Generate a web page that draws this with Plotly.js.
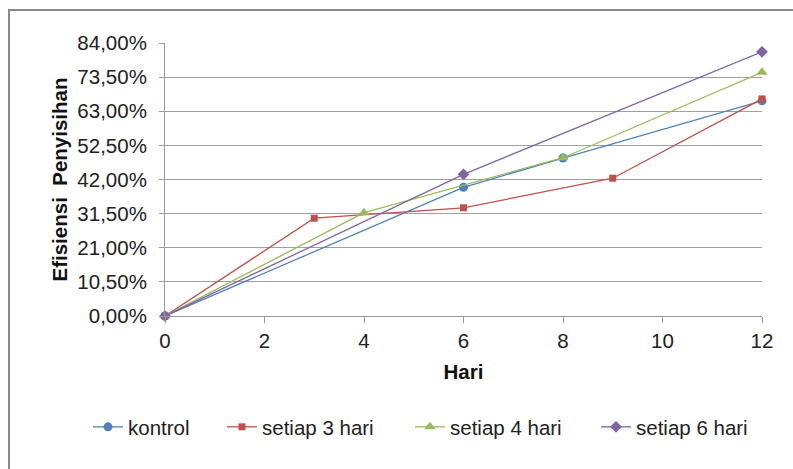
<!DOCTYPE html>
<html>
<head>
<meta charset="utf-8">
<script src="https://cdn.plot.ly/plotly-3.0.1.min.js"></script>
<style>
  html, body { margin: 0; padding: 0; background: #fff; }
  #wrap { position: relative; width: 793px; height: 469px; overflow: hidden; }
  #frame { position: absolute; left: 8px; top: 9px; width: 800px; height: 480px;
           border-top: 2px solid #8a8a8a; border-left: 2px solid #8a8a8a; pointer-events: none; }
  #chart { position: absolute; left: 0; top: 0; width: 793px; height: 469px; }
</style>
</head>
<body>
<div id="wrap">
  <div id="chart"></div>
  <div id="frame"></div>
</div>
<script>
// Removal efficiency (%) per day for each treatment schedule
const kontrolDays = [0, 6, 8, 12];
const kontrolVals = [0, 39.6, 48.6, 66.2];

const tiga3Days = [0, 3, 6, 9, 12];
const tiga3Vals = [0, 30.1, 33.3, 42.4, 66.8];

const empat4Days = [0, 4, 8, 12];
const empat4Vals = [0, 31.8, 48.7, 75.0];

const enam6Days = [0, 6, 12];
const enam6Vals = [0, 43.6, 81.3];

const seriesNames = ['kontrol', 'setiap 3 hari', 'setiap 4 hari', 'setiap 6 hari'];
const yTicks = [0, 10.5, 21, 31.5, 42, 52.5, 63, 73.5, 84];
const yTickText = yTicks.map(v => v.toFixed(2).replace('.', ',') + '%');
const xTicks = [0, 2, 4, 6, 8, 10, 12];

function line(x, y, name, color, symbol, size, legendId) {
  return {
    x: x, y: y, name: name, type: 'scatter', mode: 'lines+markers',
    line: { color: color, width: 1.3 },
    marker: { color: color, symbol: symbol, size: size },
    cliponaxis: false,
    legend: legendId
  };
}

const data = [
  line(kontrolDays, kontrolVals, seriesNames[0], '#4F81BD', 'circle', 9, 'legend'),
  line(tiga3Days, tiga3Vals, seriesNames[1], '#C0504D', 'square', 7, 'legend2'),
  line(empat4Days, empat4Vals, seriesNames[2], '#9BBB59', 'triangle-up', 10, 'legend3'),
  line(enam6Days, enam6Vals, seriesNames[3], '#8064A2', 'diamond', 9, 'legend4')
];

const FAMILY = 'Liberation Sans, Arial, sans-serif';
const font = { family: FAMILY, size: 20.5, color: '#222' };
const titleFont = { family: FAMILY, size: 20.5, color: '#111' };

// one legend box per series, laid out in a row under the plot
function legendAt(px) {
  return {
    orientation: 'h', xref: 'container', yref: 'container',
    x: px / 793, y: 1 - 427 / 469, xanchor: 'left', yanchor: 'middle',
    font: font, itemclick: false, bgcolor: 'rgba(0,0,0,0)'
  };
}

const layout = {
  width: 793, height: 469,
  margin: { l: 165, r: 31, t: 43, b: 153 },
  paper_bgcolor: '#fff', plot_bgcolor: '#fff',
  font: font,
  showlegend: true,
  xaxis: {
    range: [0, 12], tickvals: xTicks, ticktext: xTicks.map(String),
    showgrid: false, zeroline: false,
    showline: true, linecolor: '#9a9a9a', linewidth: 1,
    ticks: 'outside', ticklen: 6, tickcolor: '#9a9a9a',
    tickfont: font,
    title: { text: '<b>Hari</b>', font: titleFont, standoff: 14 }
  },
  yaxis: {
    range: [0, 84], tickvals: yTicks, ticktext: yTickText,
    showgrid: true, gridcolor: '#a0a0a0', gridwidth: 1, zeroline: false,
    showline: true, linecolor: '#9a9a9a', linewidth: 1,
    ticks: 'outside', ticklen: 5, tickcolor: '#9a9a9a',
    ticklabelstandoff: 8,
    tickfont: font,
    title: { text: '<b>Efisiensi  Penyisihan</b>', font: titleFont, standoff: 4 }
  },
  legend: legendAt(88),
  legend2: legendAt(222),
  legend3: legendAt(410),
  legend4: legendAt(596)
};

Plotly.newPlot('chart', data, layout, { displayModeBar: false, staticPlot: true });
</script>
</body>
</html>
